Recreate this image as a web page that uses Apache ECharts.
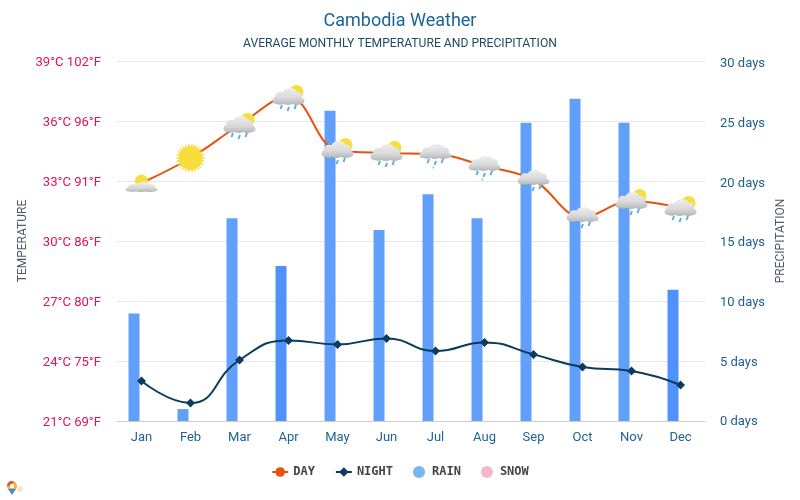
<!DOCTYPE html>
<html>
<head>
<meta charset="utf-8">
<style>html,body{margin:0;padding:0;background:#fff}#c{width:800px;height:500px}</style>
<script src="https://cdn.jsdelivr.net/npm/echarts@6/dist/echarts.min.js"></script>
</head>
<body>
<div id="c"></div>
<script>
var months = ['Jan','Feb','Mar','Apr','May','Jun','Jul','Aug','Sep','Oct','Nov','Dec'];
var dayTemps = [32.9,34.15,35.8,37.2,34.55,34.4,34.35,33.75,33.05,31.2,32,31.65];
var nightTemps = [23,21.9,24.05,25.03,24.83,25.13,24.5,24.93,24.33,23.7,23.5,22.8];
var rainDays = [9,1,17,13,26,16,19,17,25,27,25,11];
var snowDays = [0,0,0,0,0,0,0,0,0,0,0,0];
var iconKinds = ['partly','sun','partlyRain','partlyRain','partlyRain','partlyRain','rain','rain','rain','rain','partlyRain','partlyRain'];
var tempTickLabels = {21:'21°C 69°F',24:'24°C 75°F',27:'27°C 80°F',30:'30°C 86°F',33:'33°C 91°F',36:'36°C 96°F',39:'39°C 102°F'};
var darkerBars = ['Apr','Dec'];

var CLOUD = 'M4 15 C0 15 -1 10 3 8.5 C3 5 7 3 10 4.5 C12 0 21 -1 24 4 C28 3.5 30 7 28.5 9 C32 10 33 15 28 15 C25 16.5 22 16 19.5 15 C16.5 16.5 13.5 16 11 15 C9 16 6 16 4 15 Z';
var cloudFill = new echarts.graphic.LinearGradient(0,0,0,1,[{offset:0,color:'#eeeeee'},{offset:0.6,color:'#d8d8d8'},{offset:1,color:'#b2b6ba'}]);
function sun(x,y,r){
  return {type:'circle',shape:{cx:x,cy:y,r:r},style:{fill:'#f7de3c'}};
}
function cloud(x,y,w,h){
  return {type:'path',shape:{pathData:CLOUD,x:x,y:y,width:w,height:h,layout:'cover'},style:{fill:cloudFill}};
}
function drops(y,rows){
  var out=[],xs=[-8,-1,6],c='#58aed4';
  xs.forEach(function(x,i){
    var dy=i===1?2:0;
    out.push({type:'line',shape:{x1:x+1.5,y1:y+dy,x2:x,y2:y+dy+4},style:{stroke:c,lineWidth:2}});
  });
  if(rows>1){ out.push({type:'line',shape:{x1:-2,y1:y+7.5,x2:-2.5,y2:y+9.5},style:{stroke:'#8ecbe4',lineWidth:1.5}}); }
  return out;
}
function sunRays(r1,r2,n){
  var pts=[];
  for(var i=0;i<n*2;i++){
    var a=Math.PI*i/n, r=i%2?r1:r2;
    pts.push([r*Math.cos(a),r*Math.sin(a)]);
  }
  return {type:'polygon',shape:{points:pts},style:{fill:'#f7da35'}};
}
function iconChildren(kind){
  if(kind==='sun'){ return [sunRays(11,15,26),sun(0,0,11)]; }
  if(kind==='partly'){ return [sun(0,-2,6.5),cloud(-16,-1,32,10)]; }
  if(kind==='partlyRain'){ return [sun(8,-5,7),cloud(-16,-9,32,17)].concat(drops(8,1)); }
  return [cloud(-16,-10,32,15)].concat(drops(5,2));
}
function renderIcon(params,api){
  var p=api.coord([params.dataIndex,api.value(1)]);
  return {type:'group',x:p[0],y:p[1],silent:true,children:iconChildren(iconKinds[params.dataIndex])};
}

var chart=echarts.init(document.getElementById('c'),null,{renderer:'canvas'});
chart.setOption({
  animation:false,
  backgroundColor:'#fff',
  textStyle:{fontFamily:'Roboto'},
  title:[
    {text:'Cambodia Weather',left:'center',top:7,textStyle:{fontFamily:'Roboto',fontSize:18,fontWeight:'normal',color:'#1a6496'}},
    {text:'AVERAGE MONTHLY TEMPERATURE AND PRECIPITATION',left:'center',top:33,textStyle:{fontFamily:'Roboto',fontSize:12.15,fontWeight:'normal',color:'#1c4966'}}
  ],
  grid:{left:117,right:95,top:61,bottom:79},
  legend:{
    left:'center',top:461,itemWidth:16,itemHeight:12,itemGap:20,
    textStyle:{fontFamily:'DejaVu Sans Mono',fontSize:12,fontWeight:'bold',color:'#444'},
    data:[
      {name:'DAY'},{name:'NIGHT'},
      {name:'RAIN',icon:'circle',itemStyle:{color:'#7ab5ee'}},
      {name:'SNOW',icon:'circle',itemStyle:{color:'#f7b7cb'}}
    ]
  },
  xAxis:{
    type:'category',data:months,
    axisLine:{lineStyle:{color:'#ccc'}},
    axisTick:{length:10,lineStyle:{color:'#ccc'}},
    axisLabel:{color:'#1f6391',fontSize:13,margin:10,fontFamily:'Roboto'},
    splitLine:{show:false}
  },
  yAxis:[
    {type:'value',min:21,max:39,interval:3,name:'TEMPERATURE',nameLocation:'middle',nameGap:88,nameMoveOverlap:false,
     nameTextStyle:{color:'#4b5b6b',fontSize:12,fontFamily:'Roboto'},
     axisLine:{show:false},axisTick:{show:false},
     splitLine:{lineStyle:{color:'#e6e6e6'}},
     axisLabel:{margin:16,fontSize:13.1,color:'#e0115f',fontFamily:'Roboto',verticalAlign:'top',lineHeight:4,formatter:function(v){return tempTickLabels[v];}}},
    {type:'value',min:0,max:30.17,interval:5,name:'PRECIPITATION',nameLocation:'middle',nameGap:70,nameMoveOverlap:false,
     nameTextStyle:{color:'#4b5b6b',fontSize:12,fontFamily:'Roboto'},
     axisLine:{show:false},axisTick:{show:false},splitLine:{show:false},
     axisLabel:{margin:15,fontSize:13,color:'#1e5f8a',fontFamily:'Roboto',verticalAlign:'top',lineHeight:2,formatter:function(v){return v%5===0?v+' days':'';}}}
  ],
  series:[
    {name:'RAIN',type:'bar',yAxisIndex:1,data:rainDays,barWidth:11,barGap:'36%',z:1,
     itemStyle:{color:function(p){return darkerBars.indexOf(months[p.dataIndex])>=0?'#4f92fb':'#629ffb';}}},
    {name:'SNOW',type:'bar',yAxisIndex:1,data:snowDays,barWidth:11,z:1,itemStyle:{color:'#f7b7cb'}},
    {name:'DAY',type:'line',yAxisIndex:0,data:dayTemps,smooth:0.4,symbol:'circle',symbolSize:8,z:3,
     lineStyle:{color:'#e8500f',width:2},itemStyle:{color:'#e8500f'}},
    {name:'NIGHT',type:'line',yAxisIndex:0,data:nightTemps,smooth:0.5,symbol:'diamond',symbolSize:9,z:3,
     lineStyle:{color:'#0b3c5d',width:2},itemStyle:{color:'#0b3c5d'}},
    {name:'icons',type:'custom',yAxisIndex:0,data:dayTemps.map(function(v,i){return [i,v];}),
     encode:{x:0,y:1},renderItem:renderIcon,z:5,clip:false,silent:true,tooltip:{show:false}}
  ],
  graphic:[
    {type:'group',left:7,top:481,children:[
      {type:'circle',shape:{cx:6,cy:6,r:5},style:{fill:'#f2b134'}},
      {type:'sector',shape:{cx:6,cy:6,r:5,startAngle:Math.PI,endAngle:Math.PI*1.6},style:{fill:'#e0533d'}},
      {type:'circle',shape:{cx:6,cy:6,r:2.2},style:{fill:'#fff'}},
      {type:'polygon',shape:{points:[[2,9],[10,9],[6,15]]},style:{fill:'#3f8ed0'}},
      {type:'circle',shape:{cx:14,cy:9,r:3},style:{fill:'#ece6d2'}}
    ]}
  ]
});
</script>
</body>
</html>
